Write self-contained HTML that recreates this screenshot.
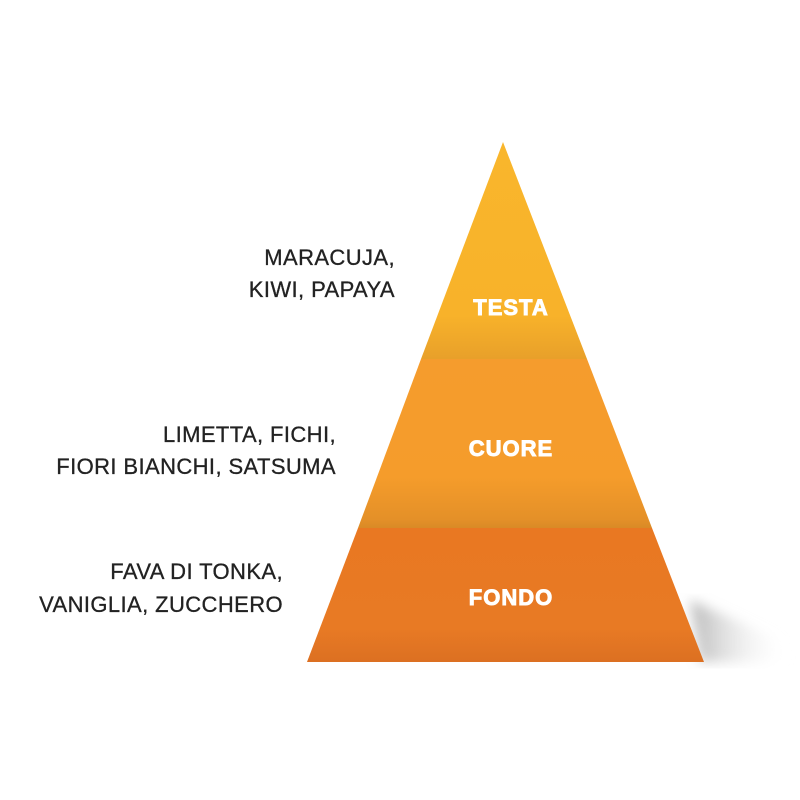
<!DOCTYPE html>
<html><head><style>
html,body{margin:0;padding:0;background:#fff;}
body{width:800px;height:800px;position:relative;overflow:hidden;font-family:"Liberation Sans",Arial,sans-serif;}
.t{position:absolute;color:#222;font-size:22px;letter-spacing:0.4px;text-align:right;white-space:nowrap;line-height:22px;-webkit-text-stroke:0.3px #222;}
</style></head><body>
<svg width="800" height="800" style="position:absolute;left:0;top:0">
<defs>
<linearGradient id="g1" x1="0" y1="0" x2="0" y2="1">
<stop offset="0" stop-color="#f9b62c"/><stop offset="0.8" stop-color="#f8b22a"/><stop offset="1" stop-color="#e8a02a"/></linearGradient>
<linearGradient id="g2" x1="0" y1="0" x2="0" y2="1">
<stop offset="0" stop-color="#f59c2d"/><stop offset="0.7" stop-color="#f59c2b"/><stop offset="0.95" stop-color="#e49028"/><stop offset="1" stop-color="#d98a26"/></linearGradient>
<linearGradient id="g3" x1="0" y1="0" x2="0" y2="1">
<stop offset="0" stop-color="#e97822"/><stop offset="0.75" stop-color="#e87a24"/><stop offset="1" stop-color="#dc7022"/></linearGradient>
<linearGradient id="sh" x1="0" y1="0" x2="1" y2="0">
<stop offset="0" stop-color="#9a9a9a" stop-opacity="0.7"/><stop offset="1" stop-color="#ffffff" stop-opacity="0"/></linearGradient>
<filter id="bl"><feGaussianBlur stdDeviation="6"/></filter>
</defs>
<polygon points="690,600 780,640 790,662 700,662" fill="url(#sh)" filter="url(#bl)"/>
<polygon points="503,142 587,359 421,359" fill="url(#g1)"/>
<polygon points="421,359 587,359 652,528 358,528" fill="url(#g2)"/>
<polygon points="358,528 652,528 704,662 307,662" fill="url(#g3)"/>
<g font-family="Liberation Sans,Arial,sans-serif" font-weight="bold" font-size="22" fill="#fff" stroke="#fff" stroke-width="0.9" text-anchor="middle" letter-spacing="1">
<text x="511" y="315">TESTA</text>
<text x="511" y="456">CUORE</text>
<text x="511" y="605">FONDO</text>
</g>
</svg>
<div class="t" style="right:405px;top:247px">MARACUJA,</div>
<div class="t" style="right:405px;top:279px">KIWI, PAPAYA</div>
<div class="t" style="right:464px;top:424px">LIMETTA, FICHI,</div>
<div class="t" style="right:464px;top:456px">FIORI BIANCHI, SATSUMA</div>
<div class="t" style="right:517px;top:561px">FAVA DI TONKA,</div>
<div class="t" style="right:517px;top:594px">VANIGLIA, ZUCCHERO</div>
</body></html>
